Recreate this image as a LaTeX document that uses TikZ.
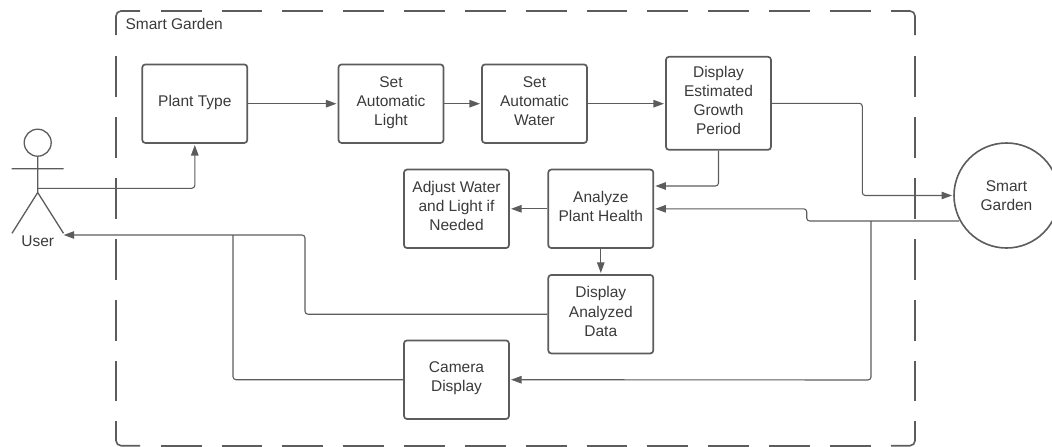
\documentclass[tikz,border=0pt]{standalone}
\usepackage{fontspec}
\setmainfont{Liberation Sans}
\usetikzlibrary{arrows.meta}
\definecolor{ln}{HTML}{5C5C5C}
\definecolor{tx}{HTML}{3A3A3A}
\tikzset{x=1pt,y=-1pt,
 lab/.style={align=center,font=\fontsize{15.5pt}{19.2pt}\selectfont,text=tx,inner sep=0pt},
 box/.style={lab,draw=ln,line width=1.7pt,rounded corners=3pt,minimum width=105,minimum height=78.5,
   execute at begin node={\rule{0pt}{11.5pt}},execute at end node={\rule[-5.5pt]{0pt}{5.5pt}}},
 conn/.style={draw=ln,line width=1.1pt,rounded corners=3pt,shorten >=1.2pt,-{Triangle[length=10.5pt,width=7.5pt]}},
 plain/.style={draw=ln,line width=1.1pt,rounded corners=3pt},
 actor/.style={draw=ln,line width=1.3pt},
 frame/.style={draw=ln,line width=1.6pt,rounded corners=5pt},
 hdash/.style={draw=ln,line width=1.6pt,dash pattern=on 40.83pt off 20pt},
 vdash/.style={draw=ln,line width=1.6pt,dash pattern=on 41pt off 20pt}}
\begin{document}
\begin{tikzpicture}
\useasboundingbox (0,0) rectangle (1052,447);
% dashed frame: corner pieces and sides
\draw[frame] (116,35) -- (116,11) -- (140,11);
\draw[frame] (891,11) -- (915,11) -- (915,35);
\draw[frame] (915,421) -- (915,445.7) -- (891,445.7);
\draw[frame] (140,445.7) -- (116,445.7) -- (116,421);
\draw[hdash] (160.8,11) -- (870.8,11);
\draw[hdash] (160.8,445.7) -- (870.8,445.7);
\draw[vdash] (116,56) -- (116,401);
\draw[vdash] (915,56) -- (915,401);
\node[lab,anchor=base west] (title) at (125.3,29.3) {Smart Garden};
\node[box] (plant) at (194.8,103.7) {Plant Type};
\node[box] (light) at (391,103.7) {Set\\Automatic\\Light};
\node[box] (water) at (534.5,103.7) {Set\\Automatic\\Water};
\node[box,minimum height=93] (period) at (718.5,103.3) {Display\\Estimated\\Growth\\Period};
\node[box] (health) at (600.8,208.8) {Analyze\\Plant Health};
\node[box] (adjust) at (456.5,208.8) {Adjust Water\\and Light if\\Needed};
\node[box] (data) at (600.8,314.2) {Display\\Analyzed\\Data};
\node[box] (camera) at (456.5,379.7) {Camera\\Display};
\node[lab,draw=ln,line width=1.6pt,circle,minimum size=105] (garden) at (1006.5,195.5) {Smart\\Garden};
% user
\node[actor,circle,minimum size=27,inner sep=0pt] (head) at (37.7,142.7) {};
\coordinate (hip) at (37.7,192.5);
\coordinate (armL) at (11.7,168.7);
\coordinate (armR) at (63.5,168.7);
\coordinate (footL) at (12,233.3);
\coordinate (footR) at (63.5,233.3);
\coordinate (neck) at (37.7,188.3);
\draw[actor] (head.south) -- (hip) (armL) -- (armR) (footL) -- (hip) -- (footR);
\node[lab,anchor=base] (user) at (37.7,246.7) {User};
\coordinate (userIn) at (62.5,235);
\coordinate (junctU) at (233,235);
\coordinate (junctG) at (871,221);
\coordinate (gardenOut) at (959,221);
\draw[conn] (neck) -- (plant.south |- neck) -- (plant.south);
\draw[conn] (plant.east) -- (light.west);
\draw[conn] (light.east) -- (water.west);
\draw[conn] (water.east) -- (water.east -| period.west);
\draw[conn] (period.east) -- (862.3,103.3) -- (862.3,195.5) -- (garden.west);
\draw[conn] (period.south) -- (period.south |- 0,186) -- (health.east |- 0,186);
\draw[conn] (health.west) -- (adjust.east);
\draw[conn] (health.south) -- (data.north);
\draw[conn] (gardenOut) -- (806.7,221) -- (806.7,208.8) -- (health.east);
\draw[conn] (junctG) -- (871,380) -- (camera.east);
\draw[conn] (data.west) -- (305,314.2) -- (305,235) -- (userIn);
\draw[plain] (camera.west) -- (233,379.7) -- (junctU);
\end{tikzpicture}
\end{document}
